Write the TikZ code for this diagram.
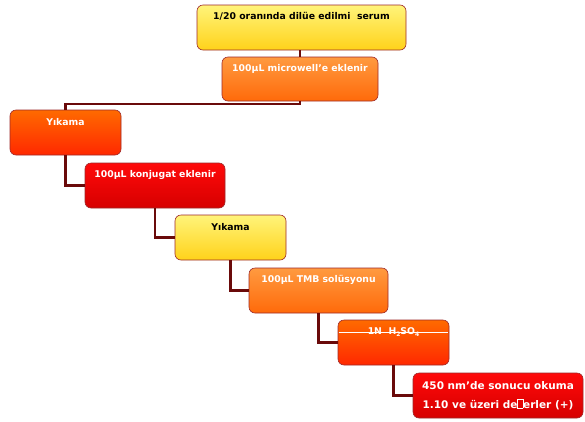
\documentclass[tikz,border=0pt]{standalone}
\usepackage{fontspec}
\setmainfont{DejaVu Sans}
\definecolor{yelT}{HTML}{FFF47A}
\definecolor{yelB}{HTML}{FFD21A}
\definecolor{orT}{HTML}{FF9A40}
\definecolor{orB}{HTML}{FF6A0A}
\definecolor{orrT}{HTML}{FF6A00}
\definecolor{orrB}{HTML}{FF2800}
\definecolor{redT}{HTML}{FF0A0A}
\definecolor{redB}{HTML}{D60000}
\definecolor{edgeC}{HTML}{9E2A2A}
\definecolor{linkC}{HTML}{6A0A0A}
\newcommand\nogl{\kern0.3pt{\setlength{\unitlength}{1pt}\linethickness{0.4pt}\framebox(5,9){}}\kern0.3pt}
\begin{document}
\begin{tikzpicture}[x=1pt,y=-1pt,
  boxbase/.style={draw=edgeC, line width=0.6pt, rounded corners=6pt, shading=axis, inner sep=0pt},
  yelbox/.style={boxbase, top color=yelT, bottom color=yelB},
  orbox/.style={boxbase, top color=orT, bottom color=orB},
  orrbox/.style={boxbase, top color=orrT, bottom color=orrB},
  redbox/.style={boxbase, top color=redT, bottom color=redB},
  txtdark/.style={font=\bfseries\fontsize{9.3}{11}\selectfont, text=black},
  txtlight/.style={font=\bfseries\fontsize{9.3}{11}\selectfont, text=white},
  link/.style={draw=linkC, line width=2.3pt}]
\useasboundingbox (0,0) rectangle (585,421);
\fill[white] (0,0) rectangle (585,421);
\coordinate (c2) at (300,104);
\node[yelbox, minimum width=209pt, minimum height=45pt] (b1) at (301.5,27.5) {};
\node[orbox, minimum width=156pt, minimum height=44pt] (b2) at (300,79) {};
\node[orrbox, minimum width=111pt, minimum height=45pt] (b3) at (65.5,132.5) {};
\node[redbox, minimum width=140pt, minimum height=45pt] (b4) at (155,185.5) {};
\node[yelbox, minimum width=111pt, minimum height=45pt] (b5) at (230.5,237.5) {};
\node[orbox, minimum width=139pt, minimum height=45pt] (b6) at (318.5,290.5) {};
\node[orrbox, minimum width=111pt, minimum height=45pt] (b7) at (393.5,342.5) {};
\node[redbox, minimum width=170pt, minimum height=45pt] (b8) at (498,395.5) {};
\draw[link] (b2.north |- b1.south) -- (b2.north);
\draw[link] (b2.south) -- (c2) -| (b3.north);
\draw[link] (b3.south) |- (b4.west);
\draw[link] (b4.south) |- (b5.west);
\draw[link] (b5.south) |- (b6.west);
\draw[link] (b6.south) |- (b7.west);
\draw[link] (b7.south) |- (b8.west);
\node[txtdark] (t1) at ([yshift=-12pt]b1.north) {1/20 oranında dilüe edilmi\ \ serum};
\node[txtlight] (t2) at ([yshift=-12pt]b2.north) {100µL microwell'e eklenir};
\node[txtlight] (t3) at ([yshift=-12pt]b3.north) {Yıkama};
\node[txtlight] (t4) at ([yshift=-12pt]b4.north) {100µL konjugat eklenir};
\node[txtdark] (t5) at ([yshift=-12pt]b5.north) {Yıkama};
\node[txtlight] (t6) at ([yshift=-12pt]b6.north) {100µL TMB solüsyonu};
\draw[white, line width=0.8pt] ([xshift=1pt,yshift=-13pt]b7.north west) -- ([xshift=-1pt,yshift=-13pt]b7.north east);
\node[txtlight] (t7) at ([yshift=-12.5pt]b7.north) {1N\ \ H{\fontsize{6}{7}\selectfont\raisebox{-1.5pt}{2}}SO{\fontsize{6}{7}\selectfont\raisebox{-1.5pt}{4}}};
\node[font=\bfseries\fontsize{10.5}{19}\selectfont, text=white, align=center] (t8) at (b8.center) {450 nm'de sonucu okuma\\1.10 ve üzeri de\nogl erler (+)};
\end{tikzpicture}
\end{document}
